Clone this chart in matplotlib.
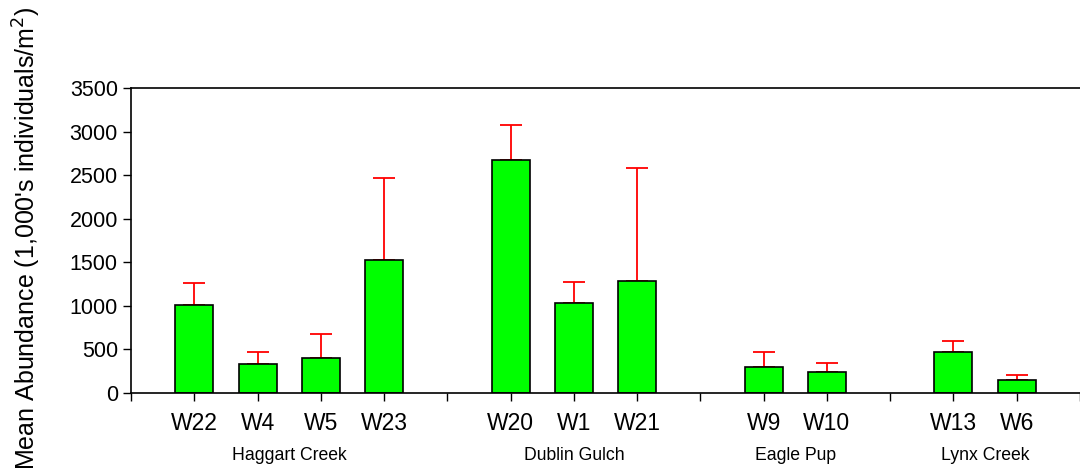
import numpy as np
import matplotlib
matplotlib.use("Agg")
import matplotlib.pyplot as plt

plt.rcParams['font.family'] = ['Liberation Sans', 'DejaVu Sans']

# site data
sites = ['W22', 'W4', 'W5', 'W23', 'W20', 'W1', 'W21', 'W9', 'W10', 'W13', 'W6']
groups = ['Haggart Creek', 'Haggart Creek', 'Haggart Creek', 'Haggart Creek',
          'Dublin Gulch', 'Dublin Gulch', 'Dublin Gulch',
          'Eagle Pup', 'Eagle Pup', 'Lynx Creek', 'Lynx Creek']
means = [1006, 336, 402, 1526, 2677, 1029, 1289, 302, 245, 466, 153]
errs = [260, 138, 271, 938, 402, 248, 1293, 164, 95, 126, 49]
group_names = ['Haggart Creek', 'Dublin Gulch', 'Eagle Pup', 'Lynx Creek']

# x positions: one empty slot before each group
pos = []
x = 0
prev = None
for g in groups:
    if g != prev:
        x += 2 if prev is not None else 1
        prev = g
    else:
        x += 1
    pos.append(x)
pos = np.array(pos, dtype=float)

fig = plt.figure(figsize=(10.8, 4.76), dpi=100)
ax = fig.add_axes([0.1213, 0.1744, 0.8787, 0.6407])

ax.bar(pos, means, width=0.6, color='#00ff00', edgecolor='black', linewidth=1.2, zorder=2)
ax.errorbar(pos, means, yerr=[np.zeros(len(errs)), errs], fmt='none', ecolor='red',
            elinewidth=1.3, capsize=8, capthick=1.3, zorder=1)

ax.set_xlim(0, 14.9)
ax.set_ylim(0, 3500)
ax.set_yticks(np.arange(0, 3501, 500))
ax.set_xticks(np.arange(0, 16))
labels = [''] * 16
for p, s in zip(pos, sites):
    labels[int(p)] = s
ax.set_xticklabels(labels, fontsize=16.5)
ax.tick_params(axis='y', labelsize=15.5, direction='out', length=6, width=1)
ax.tick_params(axis='x', direction='out', length=6, width=1, pad=8)
ax.spines['right'].set_visible(False)
for sp in ['left', 'bottom', 'top']:
    ax.spines[sp].set_linewidth(1.2)

for g in group_names:
    c = np.mean([p for p, gg in zip(pos, groups) if gg == g])
    ax.text(c, -0.205, g, transform=ax.get_xaxis_transform(), ha='center', va='center',
            fontsize=12.7)

fig.text(0.025, 0.5, "Mean Abundance (1,000's individuals/m$^2$)", rotation=90,
         ha='center', va='center', fontsize=18)

fig.savefig('out.png', dpi=100)
